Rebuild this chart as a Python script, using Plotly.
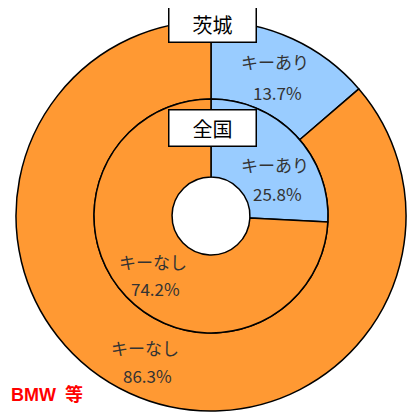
import plotly.graph_objects as go

W, H = 419, 412
OFF = 8  # page body margin offset

categories = ["キーあり", "キーなし"]
ibaraki_values = [13.7, 86.3]
national_values = [25.8, 74.2]
ring_titles = ["茨城", "全国"]
colors = ["#99CCFF", "#FF9933"]
note_text = "BMW\u2002等"


def px(x):
    return (x - OFF) / W


def py(y):
    return 1 - (y - OFF) / H


fig = go.Figure()

# outer ring: Ibaraki
fig.add_trace(go.Pie(
    labels=categories, values=ibaraki_values, sort=False, direction="clockwise",
    rotation=0, hole=0.6, textinfo="none", hoverinfo="label+percent",
    marker=dict(colors=colors, line=dict(color="black", width=1.5)),
    domain=dict(x=[px(16), px(406)], y=[py(411), py(21)]),
    showlegend=False,
))
# inner ring: national
fig.add_trace(go.Pie(
    labels=categories, values=national_values, sort=False, direction="clockwise",
    rotation=0, hole=0.333, textinfo="none", hoverinfo="label+percent",
    marker=dict(colors=colors, line=dict(color="black", width=1.5)),
    domain=dict(x=[px(94), px(328)], y=[py(333), py(99)]),
    showlegend=False,
))

lab_font = dict(family="Noto Sans CJK JP", size=17, color="#333333")
# label positions (px) : (cat line, value line)
label_pos = {
    ("outer", 0): ((275, 62), (277, 92)),
    ("inner", 0): ((275, 165), (277, 193)),
    ("inner", 1): ((153, 262), (155, 288)),
    ("outer", 1): ((145, 347), (147, 375)),
}
series = {"outer": ibaraki_values, "inner": national_values}
anns = []
for (ring, i), ((x1, y1), (x2, y2)) in label_pos.items():
    anns.append(dict(x=px(x1), y=py(y1), xref="paper", yref="paper", text=categories[i],
                     showarrow=False, font=lab_font, xanchor="center", yanchor="middle"))
    anns.append(dict(x=px(x2), y=py(y2), xref="paper", yref="paper", text=f"{series[ring][i]}%",
                     showarrow=False, font=lab_font, xanchor="center", yanchor="middle"))

box_font = dict(family="Noto Sans CJK JP", size=20, color="black")
for t, yc in zip(ring_titles, [24, 128]):
    anns.append(dict(x=px(212.5), y=py(yc), xref="paper", yref="paper", text=t,
                     showarrow=False, font=box_font, xanchor="center", yanchor="middle",
                     bgcolor="white", bordercolor="black", borderwidth=1.5, borderpad=1,
                     width=84, height=33))

anns.append(dict(x=px(9), y=py(394), xref="paper", yref="paper", text=f"<b>{note_text}</b>",
                 showarrow=False, font=dict(family="Liberation Sans, Noto Sans CJK JP", size=18, color="#FF0000"),
                 xanchor="left", yanchor="middle"))

fig.update_layout(
    width=W, height=H, margin=dict(l=0, r=0, t=0, b=0),
    paper_bgcolor="white", plot_bgcolor="white",
    annotations=anns, showlegend=False,
)

fig.write_html("out.html")
